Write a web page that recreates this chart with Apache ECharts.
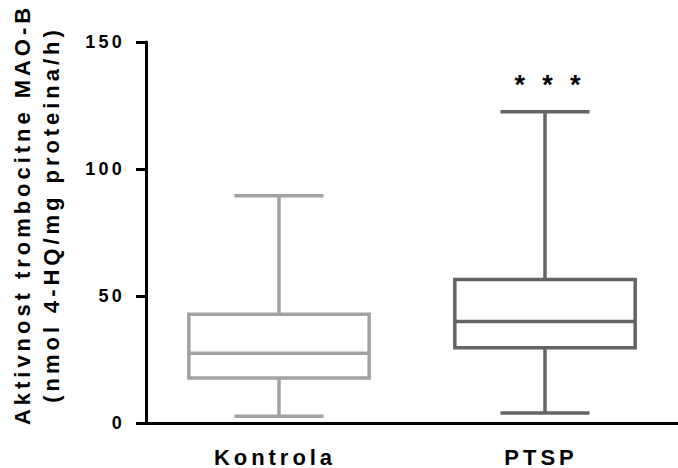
<!DOCTYPE html>
<html>
<head>
<meta charset="utf-8">
<script src="https://cdn.jsdelivr.net/npm/echarts@6/dist/echarts.min.js"></script>
<style>
  html, body { margin: 0; padding: 0; background: #fff; }
  #chart { width: 678px; height: 468px; }
  #chart text { letter-spacing: 0.18em; }
</style>
</head>
<body>
<div id="chart"></div>
<script>
// ---- data ----
const categories = ['Kontrola', 'PTSP'];
const minVals    = [2.7, 3.9];
const q1Vals     = [17.7, 29.6];
const medianVals = [27.5, 40.0];
const q3Vals     = [42.8, 56.5];
const maxVals    = [89.5, 122.5];
const significance = ['', '* * *'];
const boxColors  = ['#a2a2a6', '#646464'];
const yTitleLine1 = 'Aktivnost trombocitne MAO-B';
const yTitleLine2 = '(nmol 4-HQ/mg proteina/h)';

const seriesData = categories.map((c, i) => [i, minVals[i], q1Vals[i], medianVals[i], q3Vals[i], maxVals[i]]);

const FONT = 'Liberation Sans, Arial, Helvetica, sans-serif';
const chart = echarts.init(document.getElementById('chart'), null, { renderer: 'svg' });

function renderBox(params, api) {
  const i = api.value(0);
  const pMin = api.coord([i, api.value(1)]);
  const pQ1  = api.coord([i, api.value(2)]);
  const pMed = api.coord([i, api.value(3)]);
  const pQ3  = api.coord([i, api.value(4)]);
  const pMax = api.coord([i, api.value(5)]);
  const band = api.size([1, 0])[0];
  const boxHalf = band * 0.678 / 2;
  const capHalf = band * 0.335 / 2;
  const cx = pMed[0];
  const color = boxColors[i];
  const lw = 3.5;
  const st = { stroke: color, lineWidth: lw, fill: null };
  const children = [
    { type: 'line', shape: { x1: cx, y1: pMax[1], x2: cx, y2: pQ3[1] }, style: st },
    { type: 'line', shape: { x1: cx, y1: pQ1[1], x2: cx, y2: pMin[1] }, style: st },
    { type: 'line', shape: { x1: cx - capHalf, y1: pMax[1], x2: cx + capHalf, y2: pMax[1] }, style: st },
    { type: 'line', shape: { x1: cx - capHalf, y1: pMin[1], x2: cx + capHalf, y2: pMin[1] }, style: st },
    { type: 'rect', shape: { x: cx - boxHalf, y: pQ3[1], width: boxHalf * 2, height: pQ1[1] - pQ3[1] },
      style: { stroke: color, lineWidth: lw, fill: '#ffffff' } },
    { type: 'line', shape: { x1: cx - boxHalf, y1: pMed[1], x2: cx + boxHalf, y2: pMed[1] }, style: st }
  ];
  const sig = significance[i];
  if (sig) {
    children.push({
      type: 'text',
      style: {
        text: sig, x: cx + 5, y: pMax[1] - 13,
        align: 'center', verticalAlign: 'bottom',
        font: 'bold 27px ' + FONT, fill: '#000'
      }
    });
  }
  return { type: 'group', children };
}

chart.setOption({
  animation: false,
  backgroundColor: '#ffffff',
  grid: { left: 141, right: -6, top: 42, bottom: 44, containLabel: false },
  xAxis: {
    type: 'category',
    data: categories,
    boundaryGap: true,
    axisLine: { show: true, lineStyle: { color: '#000', width: 3 } },
    axisTick: { show: false },
    axisLabel: {
      margin: 23, color: '#000', fontSize: 22, fontWeight: 'bold', fontFamily: FONT,
      padding: [0, 8, 0, 0]
    },
    splitLine: { show: false }
  },
  yAxis: {
    type: 'value',
    min: 0, max: 150, interval: 50,
    name: yTitleLine1 + '\n' + yTitleLine2,
    nameLocation: 'middle',
    nameGap: 80,
    nameRotate: 90,
    nameTextStyle: {
      color: '#000', fontSize: 22, fontWeight: 'bold', fontFamily: FONT,
      lineHeight: 29, padding: [0, 0, 0, 36]
    },
    axisLine: { show: true, lineStyle: { color: '#000', width: 3 } },
    axisTick: { show: true, length: 10, lineStyle: { color: '#000', width: 3 } },
    axisLabel: {
      margin: 21, color: '#000', fontSize: 18, fontWeight: 'bold', fontFamily: FONT
    },
    splitLine: { show: false }
  },
  series: [{
    type: 'custom',
    renderItem: renderBox,
    clip: false,
    encode: { x: 0, y: [1, 2, 3, 4, 5] },
    data: seriesData
  }]
});
</script>
</body>
</html>
